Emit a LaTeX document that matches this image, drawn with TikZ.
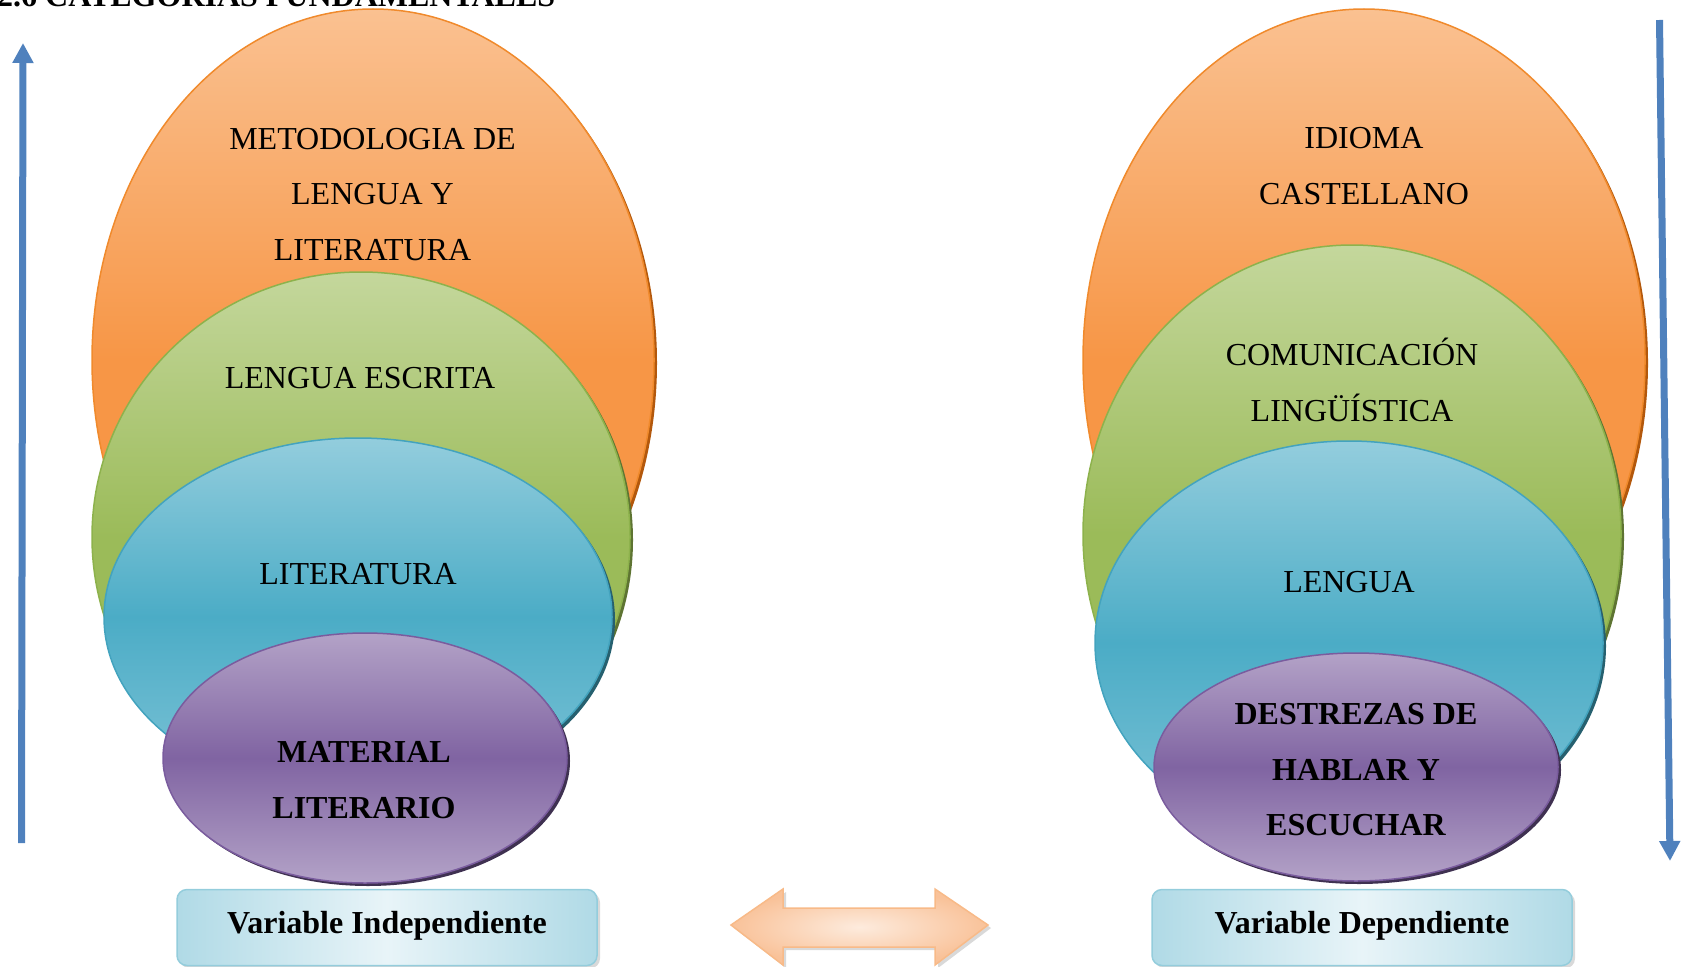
\documentclass[tikz,border=0pt]{standalone}
\usepackage{fontspec}
\setmainfont{Liberation Serif}
\usetikzlibrary{arrows.meta,shadows}
\definecolor{orgA}{HTML}{FAC191}
\definecolor{orgB}{HTML}{F79646}
\definecolor{orgD}{HTML}{F08A2C}
\definecolor{orgS}{HTML}{B3580C}
\definecolor{grnA}{HTML}{C4D79C}
\definecolor{grnB}{HTML}{9BBB59}
\definecolor{grnD}{HTML}{8DB24C}
\definecolor{grnS}{HTML}{5E7432}
\definecolor{bluA}{HTML}{93CDDD}
\definecolor{bluB}{HTML}{4BACC6}
\definecolor{bluC}{HTML}{80C4D7}
\definecolor{bluD}{HTML}{43A3BE}
\definecolor{bluS}{HTML}{26606F}
\definecolor{purA}{HTML}{B3A2C7}
\definecolor{purB}{HTML}{8064A2}
\definecolor{purD}{HTML}{7A5C9E}
\definecolor{purS}{HTML}{3F3151}
\definecolor{arrB}{HTML}{4F81BD}
\definecolor{boxA}{HTML}{B0DAE6}
\definecolor{boxL}{HTML}{E8F4F8}
\definecolor{boxD}{HTML}{94CDDC}
\definecolor{dblL}{HTML}{FDEBDD}
\definecolor{dblA}{HTML}{F9C299}
\definecolor{dblD}{HTML}{F8BA88}
\begin{document}
\begin{tikzpicture}[x=1pt,y=-1pt,
  lbl/.style={font=\fontsize{32}{55.5}\selectfont, align=center, inner sep=0pt},
  blbl/.style={lbl, font=\bfseries\fontsize{32}{55.5}\selectfont},
  orgfill/.style={top color=orgA, bottom color=orgB, middle color=orgB, draw=orgD, line width=1.5pt},
  grnfill/.style={top color=grnA, bottom color=grnB, middle color=grnB, draw=grnD, line width=1.5pt},
  blufill/.style={top color=bluA, bottom color=bluC, middle color=bluB, draw=bluD, line width=1.5pt},
  purfill/.style={top color=purA, bottom color=purA, middle color=purB, draw=purD, line width=1.5pt},
  vbox/.style={draw=boxD, line width=1.5pt, rounded corners=10pt, minimum width=420pt, minimum height=76pt,
    left color=boxA, right color=boxA, middle color=boxL, inner sep=0pt,
    font=\bfseries\fontsize{32}{38}\selectfont, text height=22pt, text depth=10pt,
    drop shadow={shadow xshift=3pt, shadow yshift=-3pt, opacity=0.3}},
  varrow/.style={arrB, line width=7pt, -{Triangle[width=20pt,length=20pt]}}
]
\useasboundingbox (0,0) rectangle (1685,966);

% title
\node[anchor=base west, inner sep=0pt, font=\bfseries\fontsize{32}{38}\selectfont] (title) at (-3,7) {2.6 CATEGORIAS FUNDAMENTALES};

% left set
\fill[orgS] (376,363) ellipse [x radius=281, y radius=351];
\shade[orgfill] (373,360) ellipse [x radius=281, y radius=351];
\fill[grnS] (364,540) ellipse [x radius=269, y radius=265];
\shade[grnfill] (361,537) ellipse [x radius=269, y radius=265];
\fill[bluS] (361,620) ellipse [x radius=254, y radius=179];
\shade[blufill] (358,617) ellipse [x radius=254, y radius=179];
\fill[purS] (368,761) ellipse [x radius=202, y radius=125];
\shade[purfill] (365,758) ellipse [x radius=202, y radius=125];

% right set
\fill[orgS] (1367,363) ellipse [x radius=281, y radius=351];
\shade[orgfill] (1364,360) ellipse [x radius=281, y radius=351];
\fill[grnS] (1355,537) ellipse [x radius=269, y radius=289];
\shade[grnfill] (1352,534) ellipse [x radius=269, y radius=289];
\fill[bluS] (1352,646) ellipse [x radius=254, y radius=202];
\shade[blufill] (1349,643) ellipse [x radius=254, y radius=202];
\fill[purS] (1359,770) ellipse [x radius=202, y radius=114];
\shade[purfill] (1356,767) ellipse [x radius=202, y radius=114];

% labels left
\node[lbl] (lo) at (372.5,193.4) {\strut METODOLOGIA DE\\\strut LENGUA Y\\\strut LITERATURA};
\node[lbl] (lg) at (360,377.5) {\strut LENGUA ESCRITA};
\node[lbl] (lb) at (358,573) {\strut LITERATURA};
\node[blbl] (lp) at (364,779.4) {\strut MATERIAL\\\strut LITERARIO};

% labels right
\node[lbl] (ro) at (1364,165.4) {\strut IDIOMA\\\strut CASTELLANO};
\node[lbl] (rg) at (1352,382.6) {\strut COMUNICACIÓN\\\strut LINGÜÍSTICA};
\node[lbl] (rb) at (1349,581) {\strut LENGUA};
\node[blbl] (rp) at (1356,769) {\strut DESTREZAS DE\\\strut HABLAR Y\\\strut ESCUCHAR};

% variable boxes
\node[vbox] (vi) at (387,927.5) {Variable Independiente};
\node[vbox] (vd) at (1362,927.5) {Variable Dependiente};

% double arrow
\shade[draw=dblD, line width=1.5pt, inner color=dblL, outer color=dblA,
  drop shadow={shadow xshift=3pt, shadow yshift=-3pt, opacity=0.3}]
  (731,925) -- (783,889) -- (783,908) -- (935,908) -- (935,889) -- (988,925)
  -- (935,965) -- (935,947) -- (783,947) -- (783,965) -- cycle;

% vertical arrows
\coordinate (la1) at (21.5,843);
\coordinate (la2) at (23,43);
\coordinate (ra1) at (1659.5,20);
\coordinate (ra2) at (1670,861);
\draw[varrow] (la1) -- (la2);
\draw[varrow] (ra1) -- (ra2);
\end{tikzpicture}
\end{document}
